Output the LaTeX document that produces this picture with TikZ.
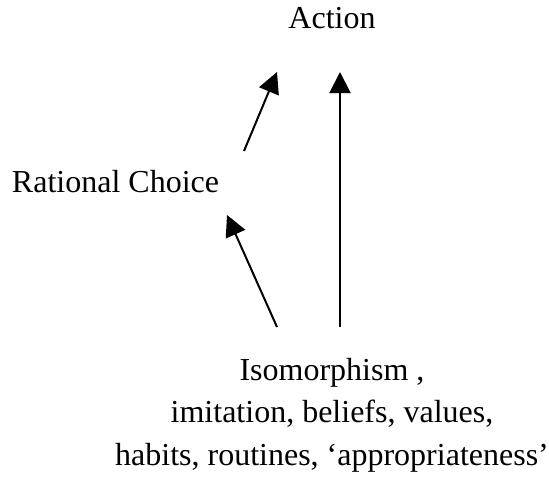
\documentclass[tikz,border=0pt]{standalone}
\usepackage{fontspec}
\setmainfont{Liberation Serif}
\usetikzlibrary{arrows.meta}
\begin{document}
\begin{tikzpicture}[x=1pt,y=-1pt,
  lbl/.style={font=\fontsize{32}{42.5}\selectfont, inner sep=0pt, align=center},
  arr/.style={line width=2pt, -{Triangle[length=21pt,width=21pt]}}]
\useasboundingbox (0,0) rectangle (549,479);
\node[lbl, anchor=base] (action) at (332,28) {Action};
\node[lbl, anchor=base] (rc) at (115.5,192) {Rational Choice};
\node[lbl, anchor=north] (iso) at (332,358) {Isomorphism ,\\imitation, beliefs, values,\\habits, routines, ‘appropriateness’};
\coordinate (a1s) at (244,151);
\coordinate (a1e) at (277,72);
\coordinate (a2s) at (340,327);
\coordinate (a2e) at (340,72);
\coordinate (a3s) at (277,327);
\coordinate (a3e) at (227,215);
\draw[arr] (a1s) -- (a1e);
\draw[arr] (a2s) -- (a2e);
\draw[arr] (a3s) -- (a3e);
\end{tikzpicture}
\end{document}
